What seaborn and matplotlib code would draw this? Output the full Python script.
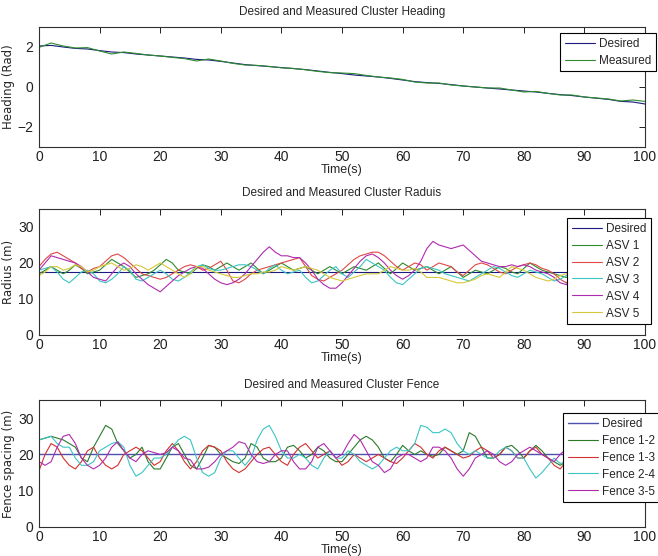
import numpy as np
import pandas as pd
import matplotlib
matplotlib.use("Agg")
import matplotlib.pyplot as plt
import seaborn as sns

# ---------------- data ----------------
t_heading = list(range(0, 101, 2))
heading_desired = [2.05, 2.08, 2.0, 1.93, 1.9, 1.82, 1.75, 1.72, 1.65, 1.6, 1.55, 1.5, 1.45, 1.38, 1.35,
                   1.28, 1.2, 1.12, 1.07, 1.02, 0.97, 0.92, 0.87, 0.8, 0.73, 0.67, 0.6, 0.55, 0.5, 0.43,
                   0.35, 0.27, 0.22, 0.18, 0.12, 0.05, 0.0, -0.05, -0.1, -0.15, -0.2, -0.25, -0.32, -0.38,
                   -0.43, -0.5, -0.56, -0.62, -0.72, -0.75, -0.85]
heading_measured = [1.98, 2.2, 2.05, 1.95, 1.97, 1.8, 1.65, 1.75, 1.68, 1.6, 1.55, 1.48, 1.42, 1.3, 1.4,
                    1.3, 1.18, 1.1, 1.08, 1.03, 0.96, 0.93, 0.86, 0.78, 0.72, 0.7, 0.67, 0.58, 0.5, 0.45,
                    0.38, 0.25, 0.2, 0.2, 0.1, 0.05, 0.0, -0.05, -0.05, -0.15, -0.25, -0.22, -0.32, -0.4,
                    -0.4, -0.5, -0.55, -0.6, -0.7, -0.65, -0.72]

t = list(range(0, 101))
radius_desired = 17.5
asv1 = [17, 18, 19, 18, 17, 18, 19.5, 18.5, 17, 17.5, 18,
        19.5, 21, 20, 19, 17.5, 16, 16.5, 17, 18, 19.5,
        21, 20, 18, 17.5, 17, 18.5, 19.5, 19, 18, 19,
        20, 19, 18, 19, 20, 18.5, 17, 18, 19, 20,
        19, 18, 18.5, 19, 18, 17, 18, 19, 18, 17,
        18, 19, 18.5, 18, 19, 20, 18.5, 17, 18.5, 20,
        19, 18, 18.5, 19, 18, 17, 18, 19, 17.5, 16,
        17, 18, 17.5, 17, 18, 19, 18.5, 17.5, 17, 18.5,
        20, 19, 18, 17.5, 17, 16.5, 16, 16.5, 17, 18,
        19, 18.5, 17.5, 17, 18, 19, 18, 17, 17.5, 18]
asv2 = [19, 21, 22.5, 23, 22, 21, 20, 18.5, 17.5, 18.5, 19,
        20.5, 22, 22.5, 21.5, 20, 18.5, 17, 16.5, 16, 15.5,
        16, 17, 18, 19, 19.5, 19, 18, 18.5, 19.5, 20.5,
        18, 15, 14.5, 15.5, 17, 18, 18.5, 19, 19.5, 20,
        20.5, 21, 21.5, 19, 16.5, 15.5, 15, 16, 17, 18,
        19.5, 21, 22, 22.5, 23, 23, 22, 20.5, 19, 18,
        19, 20, 19.5, 18, 19, 20, 19.5, 19, 17.5, 16.5,
        18, 19.5, 20, 19.5, 18.5, 17.5, 17, 18, 19, 19.5,
        20, 19.5, 18.5, 18, 17, 15.5, 14.5, 16, 18, 19.5,
        20, 19, 18, 17, 17.5, 18.5, 19, 18, 17, 17.5]
asv3 = [18, 18.5, 19, 17.5, 15.5, 14.5, 16, 17.5, 18, 17, 15,
        14.5, 15.5, 17, 19, 18, 15.5, 15, 16, 17, 18,
        17, 15.5, 15, 16, 17.5, 19, 19.5, 18.5, 18, 18,
        18.5, 19, 19.5, 19.5, 19, 18, 17, 18.5, 19.5, 18,
        17, 17.5, 18, 16, 14.5, 15, 16.5, 18, 19, 17,
        16, 17.5, 19, 21, 20, 19, 18, 16, 14.5, 14,
        15.5, 17, 18.5, 19, 18.5, 18, 17, 16.5, 16, 15.5,
        15, 16, 17, 18, 19, 18.5, 17.5, 16.5, 16, 17,
        18, 17.5, 17, 16, 15, 15.5, 16.5, 17, 18, 17,
        16, 16.5, 17.5, 18, 17, 16, 16.5, 17.5, 18, 17.5]
asv4 = [18, 20, 22, 21.5, 21, 20.5, 20, 19, 17.5, 16, 15.5,
        15, 17, 19, 20, 19, 17, 15.5, 14, 13, 12,
        13.5, 15, 16.5, 17.5, 18.5, 19, 18.5, 17, 15.5, 14.5,
        14, 14.5, 15.5, 17, 19, 21, 23, 24.5, 23, 22,
        22, 21.5, 21.5, 20, 18, 15.5, 14, 13, 13, 14.5,
        16.5, 18.5, 20.5, 22, 22.5, 21.5, 20, 18, 16.5, 15.5,
        16.5, 18, 20.5, 24, 26, 25, 24.5, 24, 24.5, 25,
        23.5, 22, 20.5, 20, 19.5, 19, 19, 19.5, 19, 19.5,
        19, 18, 17.5, 17, 16, 14.5, 14, 16, 18, 19.5,
        20, 19.5, 18.5, 17.5, 17, 17.5, 18.5, 19, 18, 17]
asv5 = [16.5, 17.5, 19, 19, 18, 18.5, 19.5, 19, 17.5, 18, 19,
        19.5, 20, 19, 18, 18.5, 19.5, 19, 18, 19, 20,
        19, 18, 17, 16, 17, 19, 19, 18, 17.5, 17,
        16.5, 16, 16, 16.5, 17, 17, 17.5, 17.5, 18, 19,
        18.5, 18, 18.5, 19, 18.5, 18, 17, 16, 15.5, 15,
        15.5, 16, 16.5, 17, 17, 17, 18, 19, 18.5, 18,
        18, 18.5, 17.5, 16, 16, 16, 15.5, 15, 14.5, 14.5,
        15, 15.5, 16.5, 17, 16.5, 16, 17.5, 19, 18.5, 18,
        17, 16, 15.5, 15, 15.5, 16.5, 17, 16.5, 16, 17,
        18, 17.5, 16.5, 16, 17, 18, 17.5, 16.5, 16, 17]

fence_desired = 20
fence12 = [24, 24.5, 25, 24.5, 24, 23, 22, 19, 18, 22, 25,
           28, 27, 23, 21, 19, 20, 22, 18, 16, 16,
           19, 22, 23, 20, 17, 16, 19, 22.5, 22, 20,
           19, 18, 17.5, 19, 23, 22, 19, 18, 18, 19,
           22, 22.5, 21, 19, 20, 22, 21, 19, 18, 18,
           20, 22, 24, 25, 24, 22, 19, 18, 20, 22.5,
           21, 20, 21, 20, 19.5, 20, 22, 21, 20, 21,
           26, 25, 22, 19, 19, 20, 22, 22.5, 21, 19,
           21, 22.5, 21, 19, 18, 17, 18, 20, 21, 20,
           19, 18, 19, 20.5, 21, 20, 19, 18.5, 19, 20]
fence13 = [15.5, 20, 23, 22, 19, 17, 16, 18, 21, 22, 19,
           17, 16, 17, 20, 21, 22, 21, 19, 17, 18,
           21, 23, 21, 18, 16, 18, 21, 22.5, 22, 21,
           18, 16, 15, 16, 18, 20, 21.5, 22, 20, 18,
           17, 20, 22, 23, 21, 19, 20, 21, 19, 17,
           18, 20, 19, 18, 19, 20, 19, 18, 17.5, 19,
           21, 23, 22, 20, 19, 21, 22, 21, 20, 19,
           19.5, 21, 22, 21, 19, 20, 22, 21, 19, 19,
           21, 22, 20, 19, 17, 16, 18, 20, 21, 20,
           18.5, 18, 19, 21, 22, 21, 19, 18, 19, 20]
fence24 = [24, 24.5, 25, 23, 22, 22, 19, 17, 17, 18, 21,
           22, 23, 23.5, 22, 17, 14, 15, 17, 19, 19,
           20, 22, 24, 25, 24, 19, 15, 14, 15, 19,
           21, 21, 19, 17, 19, 24, 27, 28, 25, 21,
           19, 19, 20, 19, 17, 16, 19, 21, 19, 19,
           21, 20, 18, 17, 16, 17, 19, 21, 22, 21,
           21, 23, 28, 27.5, 26, 26, 27, 26, 23, 21,
           20, 21, 20, 19, 19, 21, 22, 21, 19, 19,
           16, 13.5, 15, 17, 19, 17.5, 18, 20, 22, 21,
           19, 18, 19, 21, 22, 20, 18, 17.5, 19, 20.5]
fence35 = [18, 17, 18, 22, 25, 25.5, 23, 19, 17, 16, 17,
           19, 22, 23.5, 21, 19, 18, 20, 21, 20.5, 20,
           20.5, 22, 21, 19, 18.5, 16, 16, 16.5, 18, 20,
           21, 22, 23.5, 23, 20, 18, 17.5, 18, 20, 21,
           21, 18, 16, 16, 18, 22, 23, 21, 19, 20,
           23, 25.5, 24, 21, 18, 17, 15, 16, 19, 20,
           20, 19, 18, 19, 22, 22, 21, 19, 16, 14,
           16, 19, 20, 21, 20, 18, 17, 18, 20, 21,
           22, 21, 20, 19, 18, 20, 21.5, 21, 19, 18,
           17.5, 19, 21, 22, 21, 19, 18, 19, 20.5, 21]

# ---------------- style ----------------
sns.set_theme(style="white")
plt.rcParams['font.family'] = ['Liberation Sans', 'DejaVu Sans']
plt.rcParams['axes.linewidth'] = 0.8
plt.rcParams['axes.edgecolor'] = '#303030'

DESIRED = '#1a1a80'
GREEN = '#2e8b2e'
RED = '#e04848'
CYAN = '#3cc4c4'
PURPLE = '#b02ab0'
YELLOW = '#d6c83a'
FENCE_DESIRED = '#5050b0'

W, H = 658, 556
fig = plt.figure(figsize=(W / 100, H / 100), dpi=100)
left = 39 / W
width = (645 - 39) / W


def make_ax(top_px, bot_px):
    return fig.add_axes([left, 1 - bot_px / H, width, (bot_px - top_px) / H])


ax1 = make_ax(27, 147)
ax2 = make_ax(209, 335)
ax3 = make_ax(400, 527)

lw = 0.8

# heading
sns.lineplot(x=t_heading, y=heading_desired, ax=ax1, color=DESIRED, lw=lw, label='Desired')
sns.lineplot(x=t_heading, y=heading_measured, ax=ax1, color=GREEN, lw=lw, label='Measured')

# radius
sns.lineplot(x=t, y=[radius_desired] * len(t), ax=ax2, color=DESIRED, lw=lw, label='Desired')
for vals, col, name in [(asv1, GREEN, 'ASV 1'), (asv2, RED, 'ASV 2'), (asv3, CYAN, 'ASV 3'),
                        (asv4, PURPLE, 'ASV 4'), (asv5, YELLOW, 'ASV 5')]:
    sns.lineplot(x=t, y=vals, ax=ax2, color=col, lw=lw, label=name)

# fence
sns.lineplot(x=t, y=[fence_desired] * len(t), ax=ax3, color=FENCE_DESIRED, lw=1.0, label='Desired')
for vals, col, name in [(fence12, '#2a7a2a', 'Fence 1-2'), (fence13, '#d43030', 'Fence 1-3'),
                        (fence24, CYAN, 'Fence 2-4'), (fence35, PURPLE, 'Fence 3-5')]:
    sns.lineplot(x=t, y=vals, ax=ax3, color=col, lw=lw, label=name)

titles = ['Desired and Measured Cluster Heading', 'Desired and Measured Cluster Raduis',
          'Desired and Measured Cluster Fence']
ylabels = ['Heading (Rad)', 'Radius (m)', 'Fence spacing (m)']
ylims = [(-3, 3), (0, 35), (0, 35)]
yticks = [[-2, 0, 2], [0, 10, 20, 30], [0, 10, 20, 30]]
legend_pos = [(560, 33), (567, 218), (563, 413)]

for ax, ttl, yl, ylim, yt, lp in zip([ax1, ax2, ax3], titles, ylabels, ylims, yticks, legend_pos):
    ax.set_xlim(0, 100)
    ax.set_ylim(*ylim)
    ax.set_xticks(range(0, 101, 10))
    ax.set_yticks(yt)
    ax.set_title(ttl, fontsize=8.5, pad=9)
    ax.set_xlabel('Time(s)', fontsize=9, labelpad=0)
    ax.set_ylabel(yl, fontsize=8.5, labelpad=2, family=['DejaVu Sans'])
    ax.tick_params(direction='in', length=4, width=0.7, top=True, right=True,
                   labelsize=10, colors='#202020')
    ax.tick_params(axis='x', pad=2)
    ax.tick_params(axis='y', pad=4)
    for s in ax.spines.values():
        s.set_visible(True)
    ax.legend(loc='upper left', bbox_to_anchor=(lp[0] / W, 1 - lp[1] / H),
              bbox_transform=fig.transFigure, frameon=True, fancybox=False,
              edgecolor='black', framealpha=1, fontsize=8.5, handlelength=2.6,
              handletextpad=0.3, borderpad=0.4, labelspacing=0.42, borderaxespad=0)
    ax.get_legend().get_frame().set_linewidth(0.8)

fig.savefig('out.png', dpi=100)
